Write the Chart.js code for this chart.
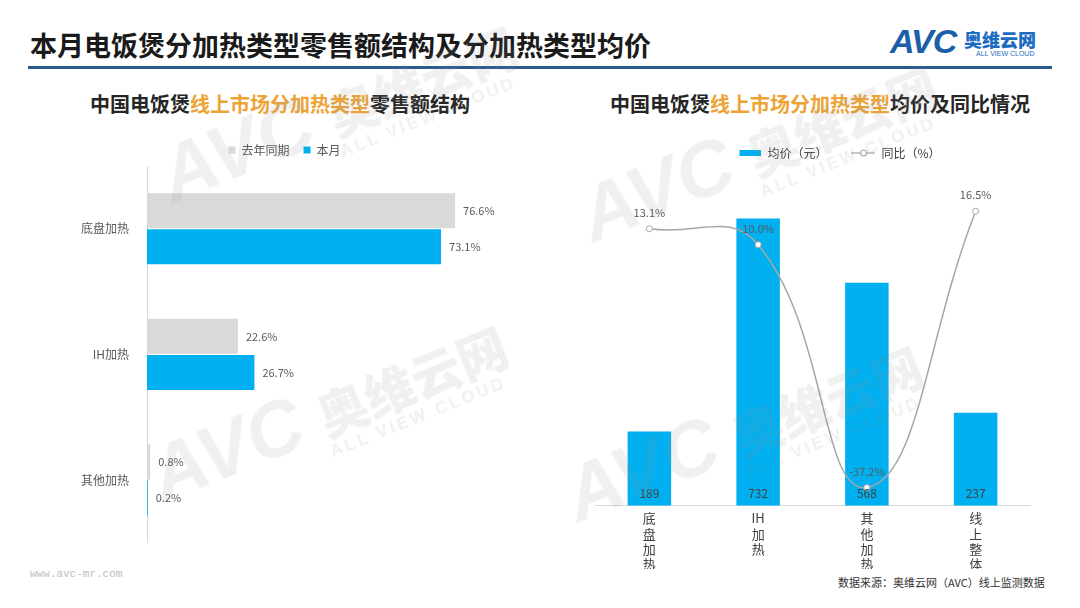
<!DOCTYPE html>
<html>
<head>
<meta charset="utf-8">
<script src="https://cdn.jsdelivr.net/npm/chart.js@4.4.1/dist/chart.umd.min.js"></script>
<style>
body { margin: 0; width: 1080px; height: 608px; background: #fff; position: relative; overflow: hidden; font-family: "Noto Sans CJK SC", sans-serif; }
.abs { position: absolute; }
#title { left: 30px; top: 27px; font-size: 27px; font-weight: bold; color: #1a1a1a; line-height: 36px; }
#rule { left: 28px; top: 66px; width: 1024px; height: 3px; background: #2a5b8f; }
.sub { top: 89px; width: 560px; text-align: center; font-size: 20px; font-weight: bold; color: #262626; }
.sub span { color: #eda436; }
.wrap { position: absolute; }
#foot1 { left: 30px; top: 568px; font-family: "Liberation Mono", monospace; font-size: 11px; color: #bdbdbd; }
#foot2 { left: 838px; top: 574px; font-size: 11px; color: #333; }
.wm { position: absolute; color: rgba(140,140,140,0.13); transform-origin: left bottom; transform: rotate(-22deg); pointer-events: none; white-space: nowrap; }
.wm b { font-family: "Liberation Sans", sans-serif; font-style: italic; font-size: 78px; font-weight: 900; }
.wm i { font-style: normal; font-size: 50px; font-weight: 900; margin-left: 18px; }
.wm em { position: absolute; left: 175px; top: 78px; font-style: normal; font-family: "Liberation Sans", sans-serif; font-weight: bold; font-size: 17px; letter-spacing: 3px; }
</style>
</head>
<body>
<div id="title" class="abs">本月电饭煲分加热类型零售额结构及分加热类型均价</div>
<div id="rule" class="abs"></div>
<div class="abs" style="left:890px;top:22px;font-family:'Liberation Sans',sans-serif;font-style:italic;font-weight:900;font-size:34px;color:#1b5fa8;letter-spacing:-1px;">AVC</div>
<div class="abs" style="left:964px;top:26px;font-size:18px;font-weight:900;color:#1b6cc0;">奥维云网</div>
<div class="abs" style="left:976px;top:50px;font-family:'Liberation Sans',sans-serif;font-size:7px;color:#1b6cc0;">ALL VIEW CLOUD</div>

<div class="abs sub" style="left:0;">中国电饭煲<span>线上市场分加热类型</span>零售额结构</div>
<div class="abs sub" style="left:540px;">中国电饭煲<span>线上市场分加热类型</span>均价及同比情况</div>

<div class="wrap" style="left:60px;top:130px;width:480px;height:430px;"><canvas id="shareChart"></canvas></div>
<div class="wrap" style="left:590px;top:123px;width:498px;height:450px;"><canvas id="priceChart"></canvas></div>

<div id="foot1" class="abs">www.avc-mr.com</div>
<div id="foot2" class="abs">数据来源：奥维云网（AVC）线上监测数据</div>

<div class="wm" style="left:180px;top:130px;"><b>AVC</b><i>奥维云网</i><em>ALL VIEW CLOUD</em></div>
<div class="wm" style="left:170px;top:430px;"><b>AVC</b><i>奥维云网</i><em>ALL VIEW CLOUD</em></div>
<div class="wm" style="left:600px;top:170px;"><b>AVC</b><i>奥维云网</i><em>ALL VIEW CLOUD</em></div>
<div class="wm" style="left:585px;top:450px;"><b>AVC</b><i>奥维云网</i><em>ALL VIEW CLOUD</em></div>

<script>
// 零售额结构（%）
const shareCategories = ['底盘加热', 'IH加热', '其他加热'];
const shareLastYear = [76.6, 22.6, 0.8];
const shareThisMonth = [73.1, 26.7, 0.2];

// 均价（元）及同比（%）
const priceCategories = ['底盘加热', 'IH加热', '其他加热', '线上整体'];
const avgPrice = [189, 732, 568, 237];
const yoyChange = [13.1, 10.0, -37.2, 16.5];

const FONT = '"Noto Sans CJK SC", sans-serif';
const BLUE = '#00b0f0';
const GREY = '#d9d9d9';

// 横向条形图末端的数值标签
const shareLabels = {
    id: 'shareLabels',
    afterDatasetsDraw(chart) {
        const ctx = chart.ctx;
        ctx.save();
        ctx.font = '11px ' + FONT;
        ctx.fillStyle = '#595959';
        ctx.textAlign = 'left';
        ctx.textBaseline = 'middle';
        chart.data.datasets.forEach((ds, i) => {
            chart.getDatasetMeta(i).data.forEach((bar, j) => {
                ctx.fillText(ds.data[j].toFixed(1) + '%', bar.x + 8, bar.y);
            });
        });
        ctx.restore();
    }
};

// 柱内价格 + 折线点上方的同比
const priceLabels = {
    id: 'priceLabels',
    afterDatasetsDraw(chart) {
        const ctx = chart.ctx;
        ctx.save();
        ctx.textAlign = 'center';
        ctx.textBaseline = 'middle';
        ctx.font = '12px ' + FONT;
        ctx.fillStyle = '#404040';
        chart.getDatasetMeta(0).data.forEach((bar, j) => {
            ctx.fillText(avgPrice[j], bar.x, bar.base - 12);
        });
        ctx.font = '11px ' + FONT;
        ctx.fillStyle = '#595959';
        chart.getDatasetMeta(1).data.forEach((pt, j) => {
            ctx.fillText(yoyChange[j].toFixed(1) + '%', pt.x, pt.y - 16);
        });
        ctx.restore();
    }
};

new Chart(document.getElementById('shareChart'), {
    type: 'bar',
    data: {
        labels: shareCategories,
        datasets: [
            { label: '去年同期', data: shareLastYear, backgroundColor: GREY },
            { label: '本月', data: shareThisMonth, backgroundColor: BLUE }
        ]
    },
    options: {
        indexAxis: 'y',
        responsive: true,
        maintainAspectRatio: false,
        animation: false,
        datasets: { bar: { barPercentage: 0.97, categoryPercentage: 0.575 } },
        layout: { padding: { right: 31, bottom: 6 } },
        plugins: {
            legend: {
                labels: { boxWidth: 7, boxHeight: 7, padding: 14, color: '#595959', font: { size: 12, family: FONT } }
            },
            tooltip: { enabled: false }
        },
        scales: {
            x: { display: false, min: 0, max: 90 },
            y: {
                grid: { display: false },
                border: { color: '#d9d9d9' },
                ticks: { color: '#595959', padding: 10, font: { size: 12, family: FONT } },
                afterFit(scale) { scale.width = 87; }
            }
        }
    },
    plugins: [shareLabels]
});

function legendIcon(kind) {
    const c = document.createElement('canvas');
    c.width = 24; c.height = 10;
    const g = c.getContext('2d');
    if (kind === 'bar') {
        g.fillStyle = BLUE;
        g.fillRect(2, 2, 22, 6);
    } else {
        g.strokeStyle = '#a6a6a6';
        g.lineWidth = 1.2;
        g.beginPath(); g.moveTo(0, 5); g.lineTo(24, 5); g.stroke();
        g.fillStyle = '#fff';
        g.beginPath(); g.arc(12, 5, 3, 0, Math.PI * 2); g.fill(); g.stroke();
    }
    return c;
}

const blankAxis = (pos, width, min, max) => ({
    position: pos, min, max,
    grid: { display: false }, border: { display: false }, ticks: { display: false },
    afterFit(scale) { scale.width = width; }
});

new Chart(document.getElementById('priceChart'), {
    data: {
        labels: priceCategories,
        datasets: [
            { type: 'bar', label: '均价（元）', data: avgPrice, backgroundColor: BLUE, yAxisID: 'y', order: 2,
              barPercentage: 0.4, categoryPercentage: 1 },
            { type: 'line', label: '同比（%）', data: yoyChange, yAxisID: 'y2', order: 1,
              borderColor: '#a6a6a6', borderWidth: 1.5, tension: 0.45,
              pointRadius: 3, pointBackgroundColor: '#fff', pointBorderColor: '#a6a6a6', pointBorderWidth: 1 }
        ]
    },
    options: {
        responsive: true,
        maintainAspectRatio: false,
        animation: false,
        layout: { padding: { bottom: 4 } },
        plugins: {
            legend: {
                labels: {
                    usePointStyle: true, pointStyleWidth: 24, padding: 24,
                    color: '#404040', font: { size: 12, family: FONT },
                    generateLabels(chart) {
                        return chart.data.datasets.map((ds, i) => ({
                            text: ds.label, datasetIndex: i, hidden: false,
                            pointStyle: legendIcon(ds.type), fillStyle: BLUE, strokeStyle: BLUE,
                            lineWidth: 0, fontColor: '#404040'
                        }));
                    }
                }
            },
            tooltip: { enabled: false }
        },
        scales: {
            x: {
                grid: { display: false },
                border: { color: '#d9d9d9' },
                ticks: {
                    padding: -3, color: '#404040', maxRotation: 0, autoSkip: false,
                    font: { size: 13, family: FONT, lineHeight: 1.18 },
                    callback(v) { return priceCategories[v].match(/[A-Za-z]+|./g); }
                }
            },
            y: blankAxis('left', 2, 0, 858),
            y2: blankAxis('right', 58, -40.7, 24.7)
        }
    },
    plugins: [priceLabels]
});
</script>
</body>
</html>
